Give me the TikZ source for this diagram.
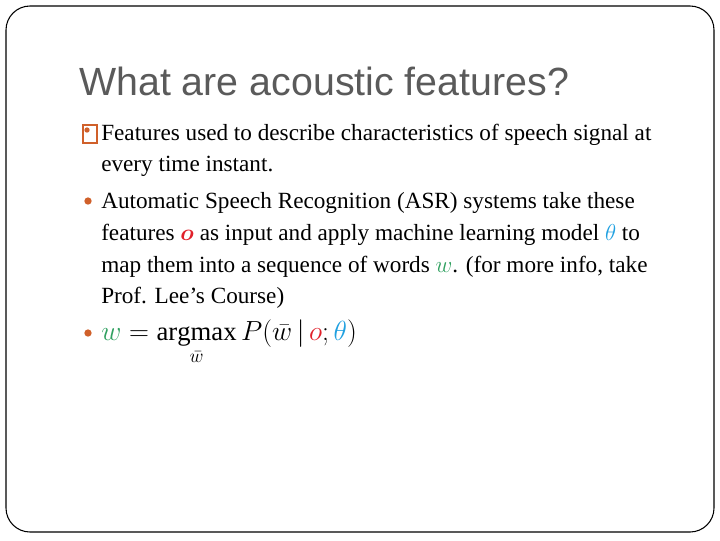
\documentclass[tikz,border=0pt]{standalone}
\usepackage{amsmath,bm}
\usepackage{fontspec}
\setmainfont{Liberation Serif}
\newfontfamily\titlefont{Liberation Sans}
\definecolor{bul}{HTML}{D0602A}
\definecolor{ored}{HTML}{E0202A}
\definecolor{thblue}{HTML}{20A0E0}
\definecolor{wgreen}{HTML}{30A060}
\definecolor{titlegray}{HTML}{5A5A5A}
\tikzset{
  line/.style={anchor=base west, inner sep=0pt, font=\fontsize{17.4}{19}\selectfont},
  dotbul/.style={circle, fill=bul, inner sep=0pt, minimum size=5.5pt}
}
\begin{document}
\begin{tikzpicture}[x=0.75pt,y=-0.75pt]
\useasboundingbox (0,0) rectangle (720,540);
\draw[rounded corners=18pt, line width=0.8pt] (6,6) rectangle (714,532);
\node[anchor=base west, inner sep=0pt, text=titlegray, font=\titlefont\fontsize{29.5}{33}\selectfont] (title) at (79,95) {What are acoustic features?};
\node[draw=bul, line width=1.5pt, minimum width=11pt, minimum height=13pt, inner sep=0pt] (b1) at (90,134) {};
\node[dotbul, minimum size=4pt] (b1d) at (87,130) {};
\node[line] (l1) at (101,140) {Features used to describe characteristics of speech signal at};
\node[line] (l2) at (101,171) {every time instant.};
\node[dotbul] (b2) at (88,201) {};
\node[line] (l3) at (101,208) {Automatic Speech Recognition (ASR) systems take these};
\node[line] (l4) at (101,240) {features \textcolor{ored}{$\bm{o}$} as input and apply machine learning model \textcolor{thblue}{$\theta$} to};
\node[line] (l5) at (101,272) {map them into a sequence of words \textcolor{wgreen}{$w$}. (for more info, take};
\node[line] (l6) at (101,303) {Prof. Lee’s Course)};
\node[dotbul] (b3) at (88,333) {};
\node[anchor=base west, inner sep=0pt, font=\fontsize{20}{22}\selectfont] (l7) at (101,340) {$\textcolor{wgreen}{w}=\mathop{\mathrm{argmax}}\limits_{\bar w} P(\bar w\,|\,\textcolor{ored}{o};\textcolor{thblue}{\theta})$};
\end{tikzpicture}
\end{document}
